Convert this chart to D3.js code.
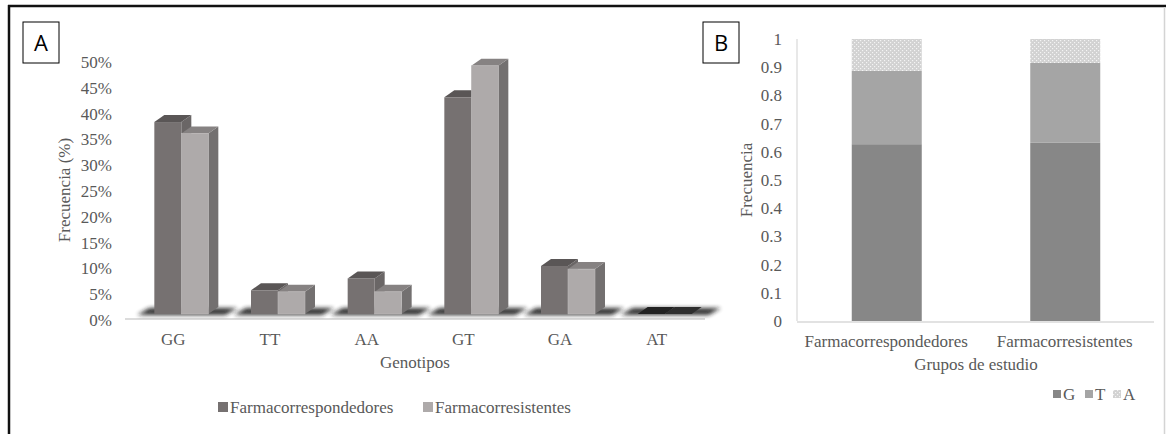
<!DOCTYPE html>
<html lang="es">
<head>
    <meta charset="UTF-8">
    <title>Genotipos y frecuencias</title>
    <script src="https://d3js.org/d3.v7.min.js"></script>
    <style>
        body{ margin:0; background:#fff; }
        text{ font-family:"Liberation Serif", serif; fill:#595959; }
        g.axis path, g.axis line{ display:none; }
        g.axis text{ font-size:17px; fill:#595959; font-family:"Liberation Serif", serif; }
    </style>
</head>
<body>
<svg width="1166" height="434"></svg>
<script>
    // ---- data : panel A (frecuencia genotipica, %)
    const genotipos = ["GG", "TT", "AA", "GT", "GA", "AT"];
    const gruposA = ["Farmacorrespondedores", "Farmacorresistentes"];
    const respondedoresA = [0.372, 0.046, 0.069, 0.420, 0.093, 0];
    const resistentesA   = [0.350, 0.043, 0.043, 0.481, 0.087, 0];
    const ticksA = [0, 0.05, 0.1, 0.15, 0.2, 0.25, 0.3, 0.35, 0.4, 0.45, 0.5];

    // ---- data : panel B (frecuencia alelica)
    const gruposB = ["Farmacorrespondedores", "Farmacorresistentes"];
    const alelos = ["G", "T", "A"];
    const freqG = [0.627, 0.632];
    const freqT = [0.260, 0.283];
    const freqA = [0.113, 0.085];
    const ticksB = [0, 0.1, 0.2, 0.3, 0.4, 0.5, 0.6, 0.7, 0.8, 0.9, 1];

    let svg = d3.select("svg");
    let defs = svg.append("defs");

    defs.append("filter").attr("id", "blur")
        .attr("x", "-20%").attr("y", "-100%").attr("width", "140%").attr("height", "300%")
        .append("feGaussianBlur").attr("stdDeviation", 2.2);

    let pat = defs.append("pattern").attr("id", "dots")
        .attr("width", 4).attr("height", 4).attr("patternUnits", "userSpaceOnUse");
    pat.append("rect").attr("width", 4).attr("height", 4).attr("fill", "#d2d2d2");
    pat.append("rect").attr("x", 0).attr("y", 0).attr("width", 1.2).attr("height", 1.2).attr("fill", "#f4f4f4");
    pat.append("rect").attr("x", 2).attr("y", 2).attr("width", 1.2).attr("height", 1.2).attr("fill", "#f4f4f4");

    // outer frame
    svg.append("line").attr("x1", 8).attr("x2", 1166).attr("y1", 6).attr("y2", 6)
        .attr("stroke", "#111").attr("stroke-width", 2.5);
    svg.append("line").attr("x1", 9).attr("x2", 9).attr("y1", 5).attr("y2", 434)
        .attr("stroke", "#111").attr("stroke-width", 2.5);
    svg.append("line").attr("x1", 1164.5).attr("x2", 1164.5).attr("y1", 7).attr("y2", 434)
        .attr("stroke", "#d4d4d4").attr("stroke-width", 1.5);

    function panelLetter(x, y, letter){
        svg.append("rect").attr("x", x).attr("y", y).attr("width", 36).attr("height", 41)
            .attr("fill", "#fff").attr("stroke", "#000").attr("stroke-width", 1);
        svg.append("text").attr("x", x + 18).attr("y", y + 29)
            .attr("text-anchor", "middle")
            .style("font-family", "'Open Sans', 'Liberation Sans', sans-serif")
            .style("font-size", "22px").style("fill", "#000")
            .text(letter);
    }
    panelLetter(23, 22, "A");
    panelLetter(703, 22, "B");

    //------------------------------------ panel A (3D columns)
    const dx = 10, dy = 7;
    let xA = d3.scaleBand().domain(genotipos).range([125, 705]);
    let yA = d3.scaleLinear().domain([0, 0.5]).range([314, 56]);
    let seriesA = [
        {name: gruposA[0], values: respondedoresA, front: "#767171", top: "#5a5656", side: "#6a6666"},
        {name: gruposA[1], values: resistentesA, front: "#aeaaaa", top: "#868282", side: "#737070"}
    ];
    const barW = 27;

    let figA = svg.append("g");

    // floor line
    figA.append("line").attr("x1", 125).attr("x2", 705).attr("y1", 319).attr("y2", 319)
        .attr("stroke", "#dcdcdc").attr("stroke-width", 2);

    // shadows under each pair
    figA.selectAll("path.shadow").data(genotipos).enter().append("path")
        .attr("class", "shadow")
        .attr("d", d => {
            let c = xA(d) + xA.bandwidth() / 2;
            let b = yA(0);
            return `M${c - 36},${b + 1} L${c - 24},${b - 6} L${c + 64},${b - 6} L${c + 52},${b + 1} Z`;
        })
        .attr("fill", "#1f1f1f").attr("opacity", 0.9)
        .attr("filter", "url(#blur)");

    genotipos.forEach((g, i) => {
        let c = xA(g) + xA.bandwidth() / 2;
        seriesA.forEach((s, k) => {
            let v = s.values[i];
            let x0 = c - 19 + k * barW;
            let yt = yA(v), yb = yA(0);
            let gb = figA.append("g");
            if (v === 0) {
                gb.append("path")
                    .attr("d", `M${x0},${yb} L${x0 + dx},${yb - dy} L${x0 + barW + dx},${yb - dy} L${x0 + barW},${yb} Z`)
                    .attr("fill", k === 0 ? "#222" : "#2e2e2e");
                return;
            }
            // side
            gb.append("path")
                .attr("d", `M${x0 + barW},${yt} L${x0 + barW + dx},${yt - dy} L${x0 + barW + dx},${yb - dy} L${x0 + barW},${yb} Z`)
                .attr("fill", s.side);
            // top
            gb.append("path")
                .attr("d", `M${x0},${yt} L${x0 + dx},${yt - dy} L${x0 + barW + dx},${yt - dy} L${x0 + barW},${yt} Z`)
                .attr("fill", s.top);
            // front
            gb.append("rect").attr("x", x0).attr("y", yt)
                .attr("width", barW).attr("height", yb - yt)
                .attr("fill", s.front)
                .attr("stroke", k === 1 ? "#bdbaba" : "none").attr("stroke-width", 0.6);
        });
    });

    figA.append("g")
        .attr("class", "axis")
        .attr("transform", "translate(114,6)")
        .call(d3.axisLeft(yA).tickValues(ticksA).tickFormat(d3.format(".0%")).tickSize(0).tickPadding(2));

    figA.append("g")
        .attr("class", "axis")
        .attr("transform", "translate(0,331)")
        .call(d3.axisBottom(xA).tickSize(0).tickPadding(2));

    figA.append("text").attr("x", 415).attr("y", 368).attr("text-anchor", "middle")
        .style("font-size", "17px").text("Genotipos");
    figA.append("text").attr("transform", "translate(70,190) rotate(-90)")
        .attr("text-anchor", "middle").style("font-size", "17px").text("Frecuencia (%)");

    // legend A
    let legA = figA.append("g").attr("transform", "translate(218,402)");
    let legX = [0, 205];
    seriesA.forEach((s, k) => {
        legA.append("rect").attr("x", legX[k]).attr("y", 0).attr("width", 10).attr("height", 10).attr("fill", s.front);
        legA.append("text").attr("x", legX[k] + 12).attr("y", 11)
            .style("font-size", "17px").text(s.name);
    });

    //------------------------------------ panel B (stacked columns)
    let xB = d3.scaleBand().domain(gruposB).range([797, 1154]).paddingInner(0).paddingOuter(0);
    let yB = d3.scaleLinear().domain([0, 1]).range([321, 39]);
    let tableB = gruposB.map((g, i) => ({grupo: g, G: freqG[i], T: freqT[i], A: freqA[i]}));
    let stackB = d3.stack().keys(alelos)(tableB);
    let colorB = {G: "#878787", T: "#a5a5a5", A: "url(#dots)"};
    const barWB = 70;

    let figB = svg.append("g");
    figB.selectAll("g.layer").data(stackB).enter().append("g")
        .attr("class", "layer")
        .attr("fill", d => colorB[d.key])
        .selectAll("rect").data(d => d).enter().append("rect")
        .attr("x", d => xB(d.data.grupo) + xB.bandwidth() / 2 - barWB / 2 + 0.5)
        .attr("y", d => yB(d[1]))
        .attr("width", barWB)
        .attr("height", d => yB(d[0]) - yB(d[1]));

    // axis lines
    figB.append("line").attr("x1", 797).attr("x2", 797).attr("y1", yB(1)).attr("y2", yB(0))
        .attr("stroke", "#d9d9d9").attr("stroke-width", 1.2);
    figB.append("line").attr("x1", 797).attr("x2", 1154).attr("y1", yB(0) + 1).attr("y2", yB(0) + 1)
        .attr("stroke", "#d9d9d9").attr("stroke-width", 1.5);

    figB.append("g")
        .attr("class", "axis")
        .attr("transform", "translate(784,0)")
        .call(d3.axisLeft(yB).tickValues(ticksB).tickFormat(d => d3.format("")(+d.toFixed(1))).tickSize(0).tickPadding(2));

    figB.append("g")
        .attr("class", "axis")
        .attr("transform", "translate(0,333)")
        .call(d3.axisBottom(xB).tickSize(0).tickPadding(2));

    figB.append("text").attr("x", 976).attr("y", 370).attr("text-anchor", "middle")
        .style("font-size", "17px").text("Grupos de estudio");
    figB.append("text").attr("transform", "translate(752,180) rotate(-90)")
        .attr("text-anchor", "middle").style("font-size", "17px").text("Frecuencia");

    // legend B
    let legB = figB.append("g").attr("transform", "translate(1053,390)");
    let legBX = [0, 32, 60];
    alelos.forEach((a, k) => {
        legB.append("rect").attr("x", legBX[k]).attr("y", 0).attr("width", 8).attr("height", 8).attr("fill", colorB[a]);
        legB.append("text").attr("x", legBX[k] + 10).attr("y", 9.5)
            .style("font-size", "17px").text(a);
    });
</script>
</body>
</html>
